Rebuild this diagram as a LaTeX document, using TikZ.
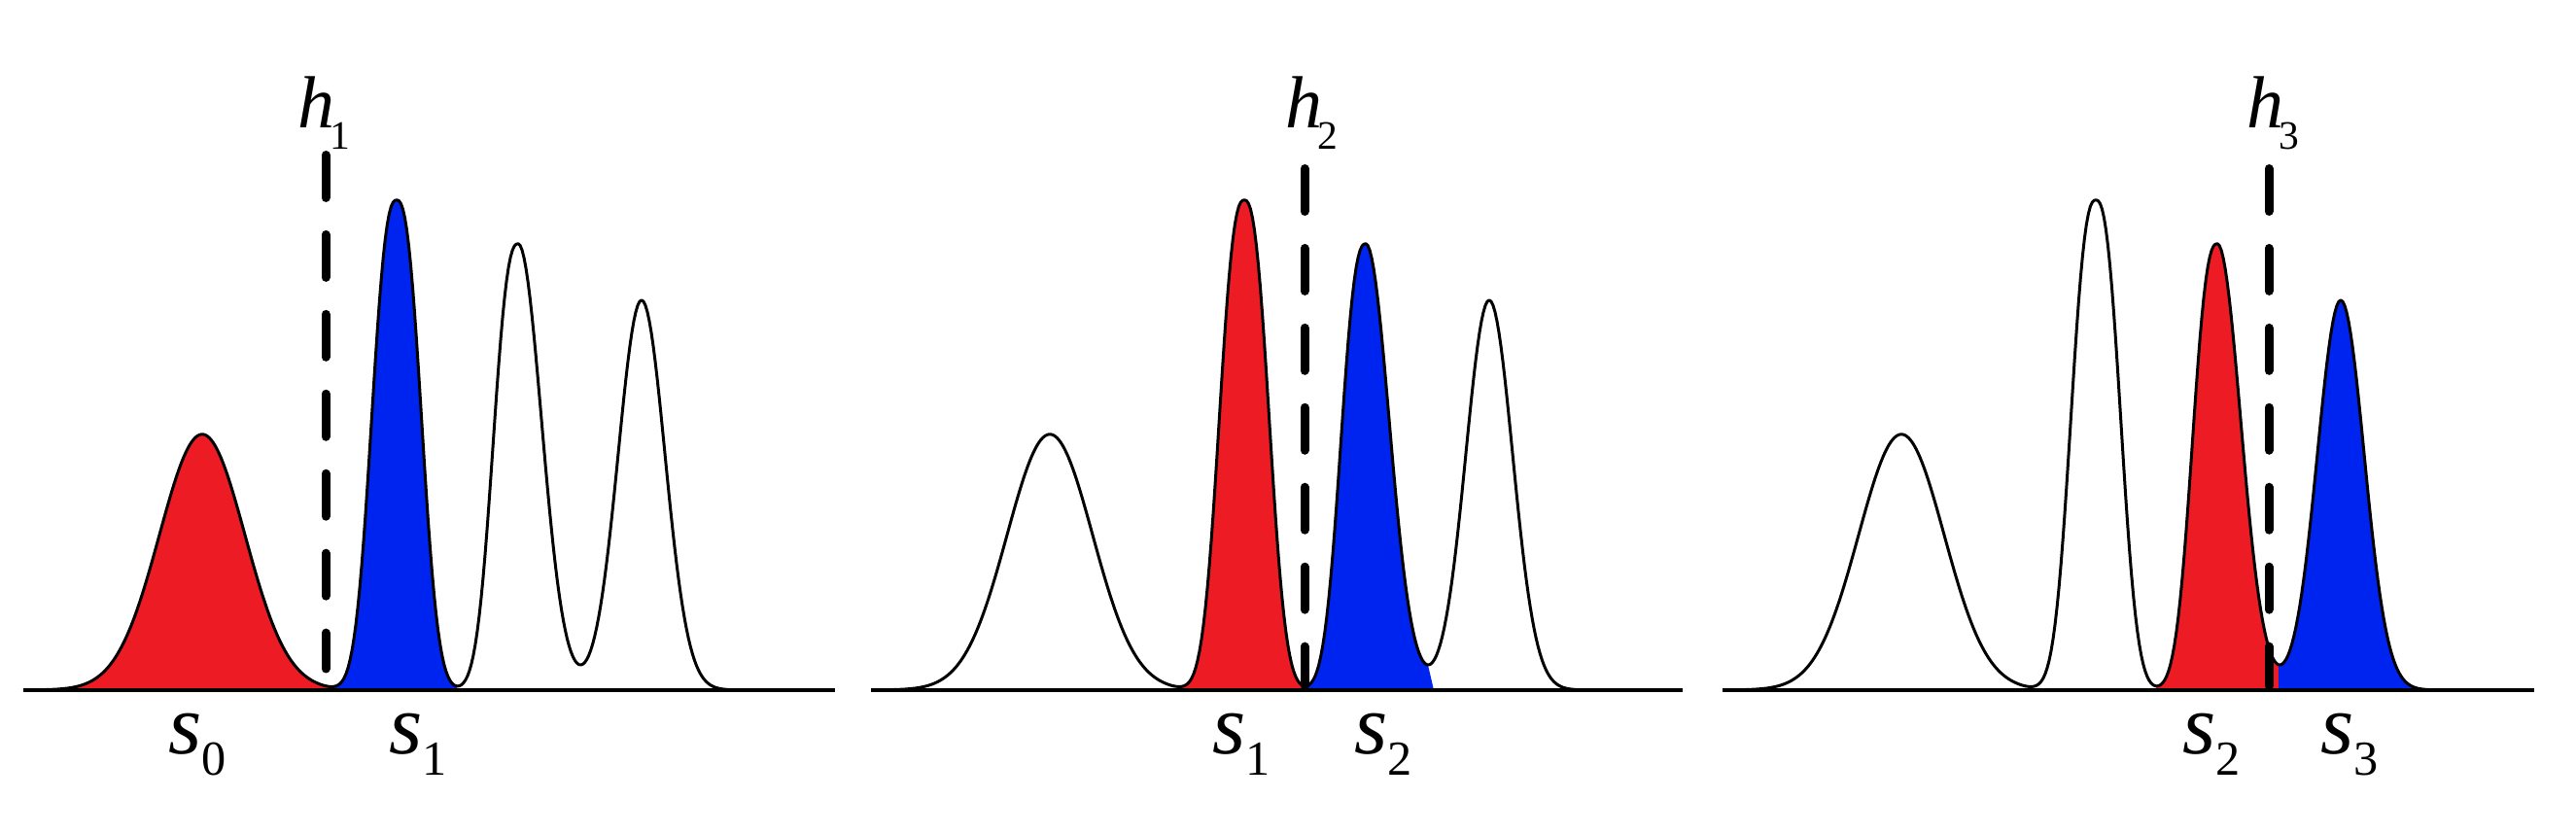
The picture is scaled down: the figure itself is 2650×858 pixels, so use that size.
\documentclass[tikz,border=0pt]{standalone}
\usepackage{fontspec}
\setmainfont{Liberation Serif}
\definecolor{pkred}{RGB}{237,28,36}
\definecolor{pkblue}{RGB}{0,36,240}
\tikzset{
  declare function={
    gs(\xv,\mv,\sv)=exp(-min(0.5*((\xv-\mv)/\sv)*((\xv-\mv)/\sv),9));
    gg(\xv,\mv,\sv)=exp(-min(0.5*(abs((\xv-\mv)/\sv)+0.0001)^2.5,9));
    fc(\xv)=263*gs(\xv/100,2.08,0.44)+504*gg(\xv/100,4.08,0.24)+459*ifthenelse(\xv<533,gg(\xv/100,5.33,0.24),gs(\xv/100,5.33,0.24))+401*gs(\xv/100,6.60,0.24);
  },
  curve/.style={line width=0.85pt, black, line join=round},
  axisline/.style={line width=0.9pt, black},
  cutline/.style={line width=2.56pt, black, line cap=round, dash pattern=on 12.5pt off 10.8pt},
  lab/.style={inner sep=0pt, anchor=base west},
}
\newcommand{\slbl}[2]{{\fontsize{25}{30}\selectfont\itshape #1}\raisebox{-6.3pt}{\fontsize{14.3}{17}\selectfont #2}}
\newcommand{\hlbl}[1]{{\fontsize{21.6}{26}\selectfont\itshape h}\kern-1.5pt\raisebox{-6pt}{\fontsize{11.8}{14}\selectfont #1}}
\begin{document}
\begin{tikzpicture}[x=0.01cm, y=-0.01cm]
\useasboundingbox (0,0) rectangle (2650,858);
% ---------- panel 1 ----------
\begin{scope}
  \fill[pkred] (24,710) -- plot[domain=24:340, samples=120] (\x,{710-fc(\x)}) -- (340,710) -- cycle;
  \fill[pkblue] (340,710) -- plot[domain=340:470, samples=120] (\x,{710-fc(\x)}) -- (470,710) -- cycle;
  \draw[axisline] (24,710) -- (859,710);
  \draw[curve] plot[domain=24:827, samples=400] (\x,{710-fc(\x)});
  \coordinate (c1t) at (335,159.5);
  \coordinate (c1b) at (335,688);
  \draw[cutline] (c1t) -- (c1b);
\end{scope}
% ---------- panel 2 ----------
\begin{scope}[shift={(872,0)}]
  \fill[pkred] (340,710) -- plot[domain=340:470, samples=120] (\x,{710-fc(\x)}) -- (470,710) -- cycle;
  \fill[pkblue] (470,710) -- plot[domain=470:597, samples=120] (\x,{710-fc(\x)}) -- (603,710) -- cycle;
  \draw[axisline] (24,710) -- (859,710);
  \draw[curve] plot[domain=24:827, samples=400] (\x,{710-fc(\x)});
  \coordinate (c2t) at (470,173.5);
  \coordinate (c2b) at (470,705.5);
  \draw[cutline] (c2t) -- (c2b);
\end{scope}
% ---------- panel 3 ----------
\begin{scope}[shift={(1748,0)}]
  \fill[pkred] (470,710) -- plot[domain=470:596, samples=120] (\x,{710-fc(\x)}) -- (596,710) -- cycle;
  \fill[pkblue] (596,710) -- plot[domain=596:827, samples=150] (\x,{710-fc(\x)}) -- (827,710) -- cycle;
  \draw[axisline] (24,710) -- (859,710);
  \draw[curve] plot[domain=24:827, samples=400] (\x,{710-fc(\x)});
  \coordinate (c3t) at (586,173.5);
  \coordinate (c3b) at (586,705.5);
  \draw[cutline] (c3t) -- (c3b);
\end{scope}
% ---------- labels ----------
\node[lab] (h1) at (306,132) {\hlbl{1}};
\node[lab] (h2) at (1322,132) {\hlbl{2}};
\node[lab] (h3) at (2311,132) {\hlbl{3}};
\node[lab] (s0a) at (173,775) {\slbl{s}{0}};
\node[lab] (s1a) at (400,775) {\slbl{s}{1}};
\node[lab] (s1b) at (1247,775) {\slbl{s}{1}};
\node[lab] (s2b) at (1393,775) {\slbl{s}{2}};
\node[lab] (s2c) at (2245,775) {\slbl{s}{2}};
\node[lab] (s3c) at (2387,775) {\slbl{s}{3}};
\end{tikzpicture}
\end{document}
